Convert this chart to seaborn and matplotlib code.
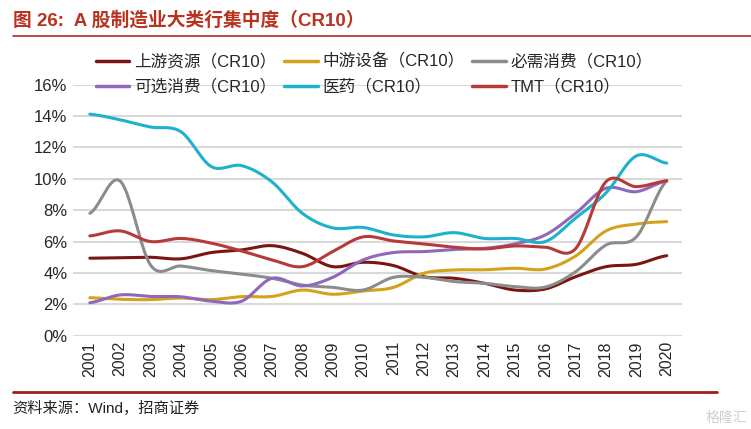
import numpy as np
import pandas as pd
import matplotlib
matplotlib.use('Agg')
import matplotlib.pyplot as plt
import seaborn as sns
from matplotlib.lines import Line2D

years = list(range(2001, 2021))
upstream = [4.94, 4.97, 5.0, 4.9, 5.3, 5.47, 5.74, 5.25, 4.4, 4.68, 4.47, 3.76, 3.66, 3.34, 2.91, 2.98, 3.76, 4.4, 4.55, 5.1]
midstream = [2.42, 2.32, 2.3, 2.4, 2.3, 2.49, 2.5, 2.91, 2.64, 2.85, 3.08, 3.98, 4.19, 4.2, 4.3, 4.25, 5.08, 6.68, 7.12, 7.27]
necessary = [7.8, 9.85, 4.5, 4.44, 4.15, 3.93, 3.66, 3.23, 3.08, 2.91, 3.72, 3.72, 3.45, 3.34, 3.13, 3.1, 4.08, 5.78, 6.3, 9.87]
optional = [2.1, 2.6, 2.5, 2.48, 2.2, 2.2, 3.66, 3.17, 3.72, 4.83, 5.3, 5.36, 5.5, 5.57, 5.85, 6.42, 7.8, 9.4, 9.18, 9.87]
medicine = [14.12, 13.76, 13.3, 13.0, 10.78, 10.84, 9.8, 7.8, 6.87, 6.9, 6.42, 6.3, 6.57, 6.2, 6.2, 6.0, 7.5, 9.1, 11.46, 11.0]
tmt = [6.36, 6.68, 6.0, 6.2, 5.9, 5.4, 4.83, 4.4, 5.36, 6.3, 6.04, 5.85, 5.64, 5.53, 5.72, 5.64, 5.55, 9.82, 9.5, 9.87]

names = ['上游资源（CR10）', '中游设备（CR10）', '必需消费（CR10）',
         '可选消费（CR10）', '医药（CR10）', 'TMT（CR10）']
series = [upstream, midstream, necessary, optional, medicine, tmt]
colors = ['#7A1512', '#D4A21A', '#8C8C8C', '#8F68BA', '#1DB2CC', '#B53A38']


def smooth(x, y, n=20):
    # catmull-rom curve through the read points, like Excel's smoothed line
    x = np.asarray(x, float)
    y = np.asarray(y, float)
    px = np.concatenate([[2 * x[0] - x[1]], x, [2 * x[-1] - x[-2]]])
    py = np.concatenate([[y[0]], y, [y[-1]]])
    xs, ys = [], []
    for i in range(1, len(px) - 2):
        t = np.linspace(0, 1, n, endpoint=False)
        for p, out in ((px, xs), (py, ys)):
            p0, p1, p2, p3 = p[i - 1], p[i], p[i + 1], p[i + 2]
            out.extend(0.5 * (2 * p1 + (-p0 + p2) * t + (2 * p0 - 5 * p1 + 4 * p2 - p3) * t ** 2
                              + (-p0 + 3 * p1 - 3 * p2 + p3) * t ** 3))
    xs.append(x[-1])
    ys.append(y[-1])
    return xs, ys


frames = []
for name, vals in zip(names, series):
    sx, sy = smooth(years, vals)
    frames.append(pd.DataFrame({'year': sx, 'value': sy, 'series': name}))
df = pd.concat(frames, ignore_index=True)

sns.set_style('white')
plt.rcParams['font.family'] = ['Liberation Sans', 'Noto Sans CJK SC', 'DejaVu Sans']

fig = plt.figure(figsize=(7.51, 4.29), dpi=100)
ax = fig.add_axes([0.097, 0.2175, 0.811, 0.5851])

for val in range(0, 17, 2):
    ax.axhline(val, color='#D9D9D9', lw=1.5, zorder=0)

sns.lineplot(data=df, x='year', y='value', hue='series', hue_order=names,
             palette=colors, sort=False, lw=2.2, legend=False, ax=ax, estimator=None)

ax.set_xlim(2000.44, 2020.5)
ax.set_ylim(0, 16)
ax.set_xticks(years)
ax.set_xticklabels([str(y) for y in years], rotation=90, fontsize=11.5)
ax.set_yticks(range(0, 17, 2))
ax.set_yticklabels([f'{v}%' for v in range(0, 17, 2)], fontsize=12)
ax.tick_params(length=0, pad=4)
ax.set_xlabel('')
ax.set_ylabel('')
for s in ax.spines.values():
    s.set_visible(False)

# legend fills column-wise, so reorder to get the row layout of the original
order = [0, 3, 1, 4, 2, 5]
handles = [Line2D([], [], color=colors[i], lw=2.5) for i in order]
labels = [names[i] for i in order]
leg = fig.legend(handles, labels, loc='upper left', bbox_to_anchor=(0.108, 0.91), ncol=3,
                 frameon=False, fontsize=12, handlelength=2.0, handletextpad=0.3,
                 columnspacing=0.45, labelspacing=0.55)

title_color = '#B8321E'
fig.text(0.017, 0.952, '图 26:  A 股制造业大类行集中度（CR10）', fontsize=13.5,
         fontweight='bold', color=title_color, va='center', ha='left')
fig.add_artist(Line2D([0.017, 1.0], [0.916, 0.916], color='#B02A20', lw=1.2))
fig.add_artist(Line2D([0.017, 0.955], [0.087, 0.087], color='#A01E1A', lw=2.0))
fig.text(0.017, 0.047, '资料来源：Wind，招商证券', fontsize=11, color='#222222',
         va='center', ha='left')
fig.text(0.995, 0.025, '格隆汇', fontsize=10, color='#CFCFCF', va='center', ha='right')

fig.savefig('out.png', dpi=100)
